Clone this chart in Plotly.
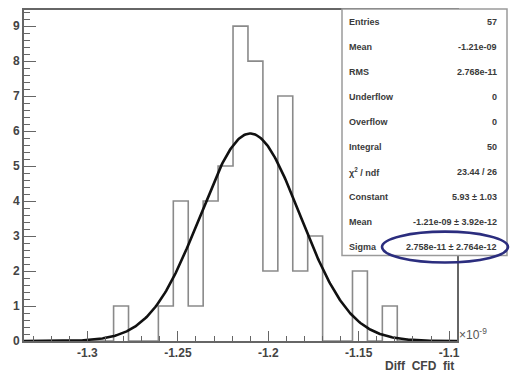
import numpy as np
import plotly.graph_objects as go

# ---- data (x in units of 1e-9) ----
bin_low_edge = -1.3351
bin_width = 0.008258
counts = [0, 0, 0, 0, 0, 0, 1, 0, 0, 1, 4, 1, 4, 5, 9, 8, 2, 7, 2, 3,
          0, 0, 2, 0, 1, 0, 0, 0, 0]

fit_constant = 5.93
fit_mean = -1.21
fit_sigma = 0.02758

stat_labels = ["Entries", "Mean", "RMS", "Underflow", "Overflow", "Integral",
               "\u03c7<sup>2</sup> / ndf", "Constant", "Mean", "Sigma"]
stat_values = ["57", "-1.21e-09", "2.768e-11", "0", "0", "50",
               "23.44 / 26", "5.93 \u00b1 1.03", "-1.21e-09 \u00b1 3.92e-12",
               "2.758e-11 \u00b1 2.764e-12"]

x_tickvals = [-1.3, -1.25, -1.2, -1.15, -1.1]
x_ticktext = ["-1.3", "-1.25", "-1.2", "-1.15", "-1.1"]
y_tickvals = [0, 1, 2, 3, 4, 5, 6, 7, 8, 9]

# ---- derived ----
nb = len(counts)
edges = bin_low_edge + bin_width * np.arange(nb + 1)
x_min, x_max = edges[0], edges[-1]
step_y = counts + [counts[-1]]

xf = np.linspace(x_min, x_max, 400)
yf = fit_constant * np.exp(-0.5 * ((xf - fit_mean) / fit_sigma) ** 2)

# ---- layout geometry (pixels) ----
W, H = 512, 373
L, R, T, B = 24, 457, 8, 341


def px(xp):
    return (xp - L) / (R - L)


def py(yp):
    return (B - yp) / (B - T)


fig = go.Figure()
fig.add_trace(go.Scatter(x=edges, y=step_y, mode="lines", line_shape="hv",
                         line=dict(color="#8a8a8a", width=1.6),
                         hoverinfo="skip", showlegend=False))
fig.add_trace(go.Scatter(x=xf, y=yf, mode="lines",
                         line=dict(color="#111111", width=2.6),
                         hoverinfo="skip", showlegend=False))

axis_col = "#666666"
fig.update_layout(
    width=W, height=H,
    margin=dict(l=L, r=W - R, t=T, b=H - B, pad=0),
    paper_bgcolor="white", plot_bgcolor="white",
    font=dict(family="Liberation Sans, Arial, sans-serif", color="#444444"),
    xaxis=dict(range=[x_min, x_max], tickvals=x_tickvals, ticktext=x_ticktext,
               ticks="inside", ticklen=10, tickwidth=1.2, tickcolor=axis_col,
               minor=dict(dtick=0.01, tick0=-1.3, ticks="inside", ticklen=5,
                          tickcolor=axis_col, tickwidth=1),
               showline=True, linecolor=axis_col, linewidth=1.6, mirror=True,
               showgrid=False, zeroline=False,
               tickfont=dict(size=12, weight="bold", color="#444444")),
    yaxis=dict(range=[0, 9.46], tickvals=y_tickvals,
               ticks="inside", ticklen=12, tickwidth=1.2, tickcolor=axis_col,
               minor=dict(dtick=0.2, ticks="inside", ticklen=6,
                          tickcolor=axis_col, tickwidth=1),
               showline=True, linecolor=axis_col, linewidth=1.6, mirror=True,
               showgrid=False, zeroline=False,
               tickfont=dict(size=12, weight="bold", color="#444444")),
)

# stats box
shapes = [dict(type="rect", xref="paper", yref="paper",
               x0=px(342), x1=px(507), y0=py(255), y1=py(7),
               fillcolor="white", line=dict(color="#9a9a9a", width=1.5),
               layer="above")]
# highlight ellipse around Sigma
shapes.append(dict(type="circle", xref="paper", yref="paper",
                   x0=px(382), x1=px(508), y0=py(262), y1=py(231),
                   line=dict(color="#2b2d7e", width=2.6), layer="above"))
fig.update_layout(shapes=shapes)

annots = []
row0, dy = 20, 25.2
for i, (lab, val) in enumerate(zip(stat_labels, stat_values)):
    yy = row0 + i * dy
    annots.append(dict(xref="paper", yref="paper", x=px(347), y=py(yy),
                       xanchor="left", yanchor="middle", text=lab,
                       showarrow=False,
                       font=dict(size=9, color="#3a3a3a", weight="bold")))
    annots.append(dict(xref="paper", yref="paper", x=px(499), y=py(yy),
                       xanchor="right", yanchor="middle", text=val,
                       showarrow=False,
                       font=dict(size=9, color="#3a3a3a", weight="bold")))

annots.append(dict(xref="paper", yref="paper", x=px(457), y=py(334),
                   xanchor="left", yanchor="middle",
                   text="\u00d710<sup>-9</sup>", showarrow=False,
                   font=dict(size=12, color="#555555")))
annots.append(dict(xref="paper", yref="paper", x=px(456), y=py(366),
                   xanchor="right", yanchor="middle",
                   text="Diff  CFD  fit", showarrow=False,
                   font=dict(size=12, color="#444444", weight="bold")))
fig.update_layout(annotations=annots)

fig.write_html("out.html")
